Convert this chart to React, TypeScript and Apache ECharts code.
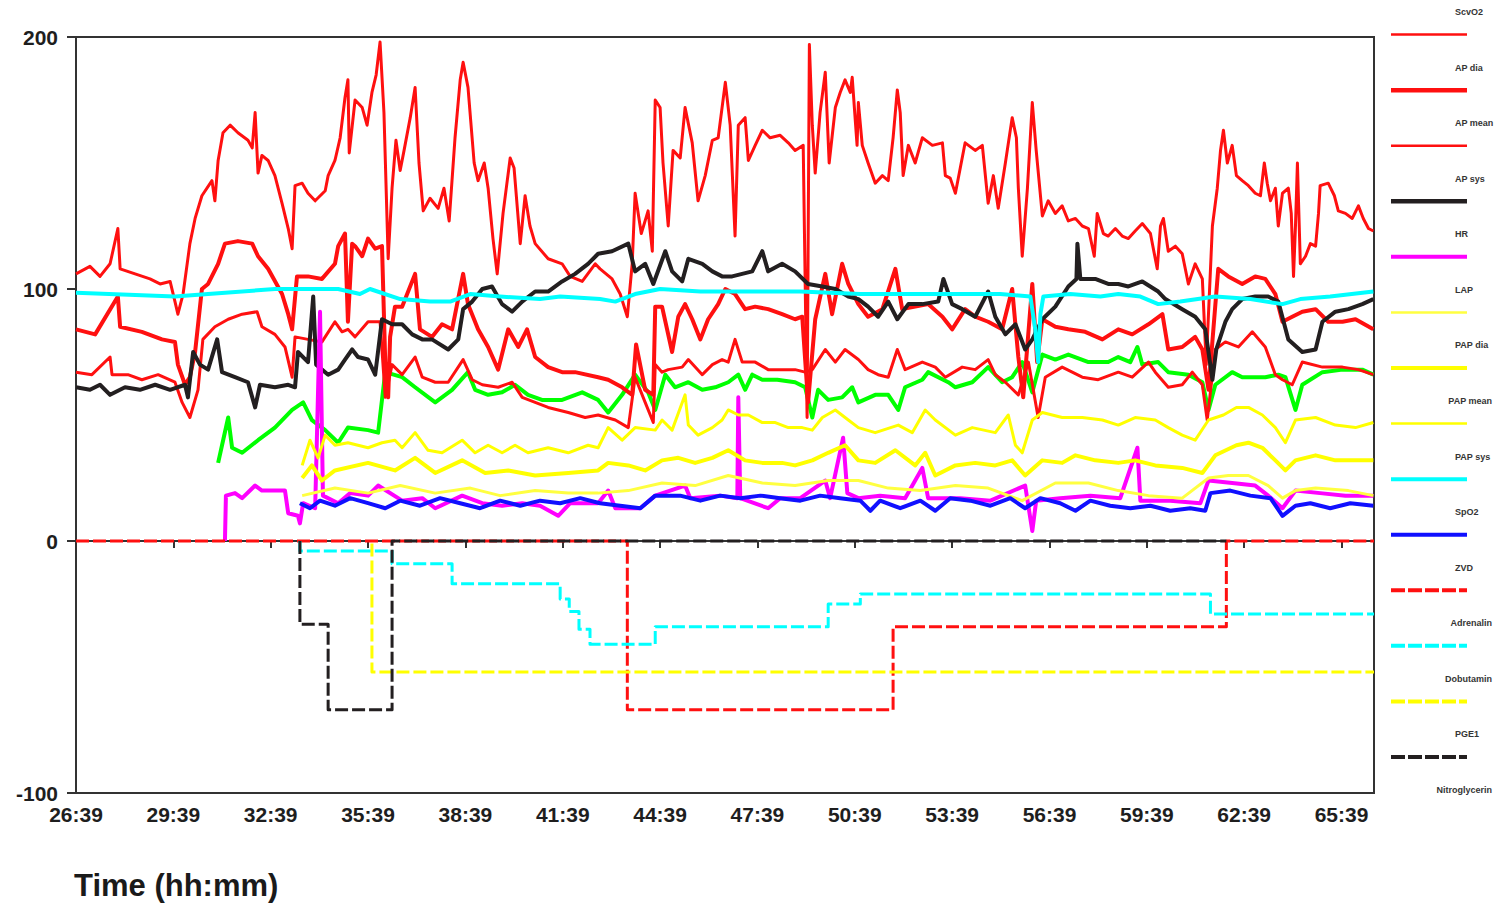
import React, { useEffect, useRef } from "react";
import * as echarts from "echarts";

type Pt = [number, number];

// x = minutes after 26:39, y = value (drug rates are plotted as negative steps)
const scvo2: Pt[] = [
  [4.38, 31], [4.5, 38], [4.69, 49], [4.81, 37], [5.12, 35], [5.61, 40], [6.13, 45], [6.66, 52], [7.0, 55], [7.27, 48],
  [7.68, 44], [8.08, 39], [8.38, 45], [9.0, 44], [9.31, 43], [9.53, 67], [10.05, 65], [10.45, 61], [11.07, 55], [11.59, 60],
  [12.08, 67], [12.3, 60], [12.7, 58], [13.13, 59], [13.53, 62], [13.93, 58], [14.36, 56], [14.98, 56], [15.6, 59], [16.09, 56],
  [16.4, 51], [16.83, 58], [17.23, 66], [17.63, 59], [17.85, 52], [18.16, 66], [18.46, 61], [18.87, 63], [19.3, 60], [19.7, 61],
  [20.1, 63], [20.41, 66], [20.62, 60], [20.84, 66], [21.15, 64], [21.61, 64], [22.16, 63], [22.47, 61], [22.69, 49], [22.87, 60],
  [23.18, 56], [23.61, 57], [23.92, 61], [24.11, 55], [24.63, 58], [25.03, 58], [25.34, 52], [25.55, 61], [26.08, 64], [26.26, 67],
  [26.88, 63], [27.1, 61], [27.62, 63], [28.11, 69], [28.54, 63], [28.85, 65], [29.16, 71], [29.47, 59], [29.78, 74], [30.18, 72],
  [30.58, 74], [31.2, 71], [31.81, 71], [32.12, 73], [32.49, 71], [32.71, 77], [32.86, 70], [33.35, 71], [33.66, 67], [34.28, 66],
  [34.71, 63], [34.9, 52], [35.11, 62], [35.63, 67], [35.94, 65], [36.65, 65], [37.05, 66], [37.27, 65], [37.58, 52], [37.79, 62],
  [38.41, 67], [39.03, 68], [39.64, 68], [39.98, 66],
];

const apDia: Pt[] = [
  [0, 67], [0.49, 66], [1.05, 73], [1.11, 66], [1.6, 66], [2.03, 64], [2.53, 66], [3.05, 63], [3.27, 55], [3.51, 49],
  [3.76, 60], [3.91, 80], [4.28, 85], [4.69, 88], [5.12, 90], [5.58, 91], [5.73, 85], [6.13, 82], [6.44, 77], [6.66, 65],
  [6.75, 81], [7.15, 80], [7.58, 79], [7.98, 87], [8.2, 83], [8.38, 84], [8.6, 81], [9.0, 87], [9.37, 87], [9.53, 57],
  [9.74, 70], [10.05, 66], [10.45, 73], [10.67, 65], [11.07, 63], [11.47, 63], [11.93, 72], [12.21, 64], [12.52, 62], [13.01, 61],
  [13.44, 63], [13.75, 57], [14.15, 55], [14.55, 53], [15.17, 51], [15.69, 49], [16.09, 50], [16.62, 48], [17.02, 45], [17.23, 65],
  [17.54, 55], [17.79, 47], [17.85, 70], [18.06, 67], [18.25, 68], [18.68, 69], [18.87, 72], [19.3, 66], [19.61, 70], [19.91, 72],
  [20.1, 71], [20.31, 80], [20.53, 71], [20.93, 71], [21.33, 68], [21.76, 68], [22.16, 68], [22.47, 67], [22.69, 68], [23.09, 76],
  [23.4, 71], [23.7, 76], [24.11, 72], [24.41, 68], [24.72, 66], [25.03, 65], [25.31, 76], [25.55, 68], [26.08, 71], [26.48, 69],
  [26.79, 65], [27.31, 69], [27.71, 68], [28.11, 72], [28.33, 66], [28.64, 63], [29.04, 58], [29.35, 71], [29.65, 49], [29.87, 65],
  [30.39, 69], [31.01, 65], [31.5, 64], [32.12, 67], [32.55, 65], [33.05, 71], [33.26, 67], [33.66, 61], [34.09, 62], [34.4, 67],
  [34.71, 62], [34.86, 48], [35.11, 76], [35.42, 79], [35.82, 77], [36.25, 83], [36.65, 77], [36.96, 66], [37.18, 64], [37.48, 62],
  [37.79, 71], [38.41, 69], [39.03, 69], [39.52, 68], [39.98, 66],
];

const apMean: Pt[] = [
  [0, 84], [0.59, 82], [1.29, 97], [1.36, 85], [2.03, 83], [2.65, 80], [3.05, 79], [3.14, 70], [3.36, 62], [3.51, 65],
  [3.67, 75], [3.88, 100], [4.07, 102], [4.38, 110], [4.59, 118], [4.99, 119], [5.43, 118], [5.61, 113], [5.92, 108], [6.35, 98],
  [6.54, 90], [6.66, 84], [6.81, 105], [7.15, 105], [7.58, 104], [7.98, 110], [8.08, 117], [8.29, 122], [8.38, 87], [8.51, 118],
  [8.6, 117], [8.82, 113], [9.0, 120], [9.22, 116], [9.43, 117], [9.53, 71], [9.62, 57], [9.68, 81], [9.83, 93], [10.05, 93],
  [10.45, 106], [10.6, 84], [10.97, 81], [11.28, 86], [11.59, 84], [11.93, 106], [12.08, 94], [12.39, 84], [12.7, 77], [13.01, 68],
  [13.32, 84], [13.63, 77], [13.9, 84], [14.15, 73], [14.55, 69], [14.98, 67], [15.38, 67], [16.09, 65], [16.4, 64], [16.83, 61],
  [17.14, 58], [17.26, 78], [17.54, 60], [17.79, 58], [17.85, 93], [18.06, 93], [18.37, 75], [18.56, 89], [18.77, 94], [18.99, 88],
  [19.24, 80], [19.48, 88], [19.79, 94], [20.01, 100], [20.31, 98], [20.62, 92], [20.93, 93], [21.33, 92], [21.76, 90], [22.16, 88],
  [22.38, 89], [22.56, 55], [22.78, 88], [23.09, 106], [23.3, 90], [23.61, 110], [23.8, 102], [24.11, 94], [24.23, 92], [24.41, 89],
  [24.85, 92], [25.25, 108], [25.46, 92], [25.86, 93], [26.26, 94], [26.7, 89], [27.0, 84], [27.4, 92], [27.71, 89], [28.11, 87],
  [28.54, 84], [28.85, 100], [29.04, 73], [29.19, 57], [29.47, 102], [29.62, 71], [29.78, 88], [30.18, 85], [30.58, 84], [31.1, 83],
  [31.63, 80], [32.12, 84], [32.55, 82], [33.05, 86], [33.48, 90], [33.66, 76], [34.09, 77], [34.49, 81], [34.71, 76], [34.9, 60],
  [35.2, 108], [35.51, 105], [35.94, 102], [36.34, 105], [36.65, 104], [36.96, 98], [37.18, 87], [37.48, 89], [37.79, 91], [38.2, 92],
  [38.59, 87], [39.03, 87], [39.43, 88], [39.98, 84],
];

const apSys: Pt[] = [
  [0, 106], [0.43, 109], [0.74, 105], [1.05, 110], [1.29, 124], [1.36, 108], [1.82, 106], [2.28, 104], [2.59, 102], [2.9, 103],
  [3.05, 95], [3.14, 90], [3.3, 98], [3.51, 118], [3.67, 128], [3.88, 137], [4.19, 143], [4.28, 135], [4.38, 151], [4.53, 162],
  [4.75, 165], [4.99, 162], [5.3, 159], [5.43, 156], [5.52, 170], [5.61, 146], [5.73, 153], [5.92, 151], [6.13, 145], [6.35, 134],
  [6.54, 124], [6.66, 116], [6.75, 141], [6.97, 142], [7.15, 138], [7.37, 135], [7.68, 139], [7.77, 145], [7.98, 151], [8.14, 160],
  [8.29, 176], [8.38, 183], [8.42, 154], [8.6, 175], [8.82, 172], [8.97, 165], [9.12, 178], [9.25, 185], [9.37, 198], [9.49, 170],
  [9.62, 112], [9.74, 140], [9.86, 159], [9.99, 147], [10.11, 155], [10.3, 168], [10.45, 180], [10.57, 150], [10.7, 131], [10.91, 136],
  [11.16, 132], [11.34, 140], [11.5, 127], [11.68, 160], [11.84, 183], [11.93, 190], [12.08, 180], [12.27, 150], [12.39, 143], [12.58, 150],
  [12.7, 140], [12.85, 120], [12.98, 106], [13.16, 130], [13.38, 152], [13.5, 148], [13.69, 118], [13.84, 137], [13.99, 125], [14.15, 118],
  [14.55, 112], [14.98, 110], [15.23, 105], [15.6, 103], [16.0, 110], [16.15, 108], [16.52, 104], [16.77, 98], [16.99, 89], [17.14, 110],
  [17.23, 138], [17.42, 122], [17.63, 131], [17.76, 115], [17.85, 175], [18.0, 172], [18.09, 150], [18.25, 125], [18.4, 155], [18.62, 152],
  [18.77, 172], [18.99, 158], [19.17, 135], [19.39, 145], [19.61, 159], [19.79, 160], [20.01, 182], [20.16, 165], [20.31, 121], [20.41, 165],
  [20.62, 168], [20.72, 151], [20.93, 157], [21.15, 163], [21.39, 160], [21.7, 161], [21.95, 158], [22.16, 155], [22.41, 157], [22.53, 49],
  [22.6, 197], [22.69, 165], [22.78, 146], [22.93, 170], [23.09, 186], [23.21, 150], [23.4, 172], [23.55, 178], [23.7, 183], [23.86, 178],
  [23.92, 184], [24.07, 157], [24.11, 174], [24.23, 157], [24.41, 150], [24.63, 142], [24.85, 145], [25.03, 143], [25.18, 160], [25.31, 179],
  [25.4, 170], [25.49, 145], [25.65, 157], [25.86, 150], [26.08, 160], [26.39, 157], [26.7, 158], [26.79, 145], [26.94, 144], [27.1, 138],
  [27.25, 148], [27.4, 158], [27.71, 155], [27.93, 157], [28.11, 134], [28.27, 145], [28.42, 132], [28.64, 150], [28.85, 168], [28.98, 160],
  [29.04, 140], [29.16, 113], [29.32, 140], [29.47, 174], [29.59, 155], [29.78, 129], [29.96, 135], [30.18, 130], [30.39, 133], [30.58, 127],
  [30.8, 128], [31.01, 125], [31.2, 124], [31.38, 113], [31.47, 130], [31.66, 122], [31.81, 121], [32.03, 124], [32.24, 121], [32.43, 120],
  [32.64, 123], [32.86, 126], [33.11, 122], [33.32, 108], [33.42, 125], [33.51, 128], [33.66, 115], [33.88, 117], [34.09, 114], [34.28, 102],
  [34.49, 110], [34.71, 104], [34.83, 70], [35.02, 125], [35.17, 140], [35.27, 155], [35.36, 163], [35.48, 150], [35.63, 157], [35.76, 145],
  [35.94, 143], [36.13, 141], [36.34, 138], [36.5, 137], [36.62, 150], [36.71, 142], [36.81, 135], [36.96, 140], [37.05, 125], [37.18, 138],
  [37.36, 140], [37.45, 130], [37.52, 105], [37.58, 125], [37.64, 150], [37.73, 110], [37.89, 113], [38.04, 118], [38.2, 117], [38.29, 130],
  [38.34, 141], [38.59, 142], [38.78, 137], [38.9, 131], [39.12, 130], [39.33, 128], [39.52, 133], [39.67, 128], [39.83, 124], [39.98, 123],
];

const hr: Pt[] = [
  [0, 61], [0.43, 60], [0.74, 62], [1.05, 58], [1.51, 61], [1.97, 60], [2.44, 62], [2.9, 60], [3.36, 62], [3.45, 57],
  [3.61, 75], [3.82, 70], [4.07, 68], [4.35, 80], [4.5, 67], [4.9, 65], [5.3, 63], [5.52, 53], [5.67, 62], [6.13, 61],
  [6.54, 62], [6.75, 61], [6.84, 75], [7.15, 71], [7.31, 97], [7.4, 70], [7.77, 66], [8.08, 68], [8.29, 72], [8.51, 76],
  [8.69, 73], [9.0, 72], [9.22, 66], [9.43, 88], [9.74, 86], [10.05, 86], [10.36, 82], [10.67, 80], [10.97, 80], [11.47, 76],
  [11.78, 80], [11.93, 92], [12.21, 95], [12.52, 100], [12.82, 101], [13.13, 94], [13.44, 91], [13.75, 95], [14.15, 99], [14.55, 99],
  [14.98, 103], [15.38, 106], [15.78, 110], [16.09, 114], [16.52, 115], [17.02, 118], [17.23, 107], [17.54, 110], [17.79, 102], [18.16, 115],
  [18.37, 107], [18.68, 103], [18.87, 112], [19.3, 110], [19.61, 107], [19.91, 105], [20.22, 105], [20.53, 106], [20.84, 107], [21.15, 115],
  [21.33, 107], [21.76, 110], [22.16, 107], [22.56, 102], [23.0, 101], [23.4, 100], [23.8, 97], [24.11, 96], [24.41, 93], [24.72, 89],
  [25.03, 95], [25.31, 88], [25.65, 94], [26.08, 94], [26.57, 95], [26.73, 104], [27.0, 94], [27.31, 92], [27.71, 89], [28.11, 99],
  [28.33, 89], [28.64, 82], [28.95, 86], [29.25, 76], [29.47, 80], [29.78, 88], [30.18, 93], [30.58, 101], [30.83, 104], [30.86, 118],
  [30.95, 104], [31.41, 104], [31.81, 102], [32.12, 102], [32.43, 101], [32.86, 103], [33.35, 99], [33.57, 96], [34.09, 92], [34.49, 89],
  [34.8, 84], [35.02, 64], [35.14, 76], [35.42, 87], [35.63, 92], [35.94, 96], [36.34, 97], [36.74, 97], [37.05, 95], [37.36, 80],
  [37.79, 75], [38.2, 76], [38.41, 87], [38.81, 91], [39.21, 92], [39.64, 94], [39.98, 96],
];

const lap: Pt[] = [
  [4.59, 0], [4.62, 18], [4.9, 19], [5.12, 17], [5.52, 22], [5.73, 20], [6.13, 20], [6.44, 20], [6.54, 11], [6.84, 10],
  [6.9, 7], [7.0, 15], [7.37, 13], [7.52, 91], [7.61, 18], [8.08, 15], [8.45, 19], [9.0, 18], [9.31, 22], [10.05, 16],
  [10.67, 17], [11.07, 13], [11.9, 18], [12.52, 15], [13.13, 14], [13.75, 15], [14.3, 14], [14.86, 10], [15.23, 15], [16.09, 15],
  [16.4, 20], [16.62, 13], [17.39, 13], [17.85, 18], [18.77, 22], [18.93, 17], [19.85, 18], [20.38, 17], [20.41, 57], [20.47, 17],
  [21.33, 13], [21.7, 17], [22.32, 17], [23.09, 24], [23.24, 17], [23.64, 41], [23.77, 19], [24.11, 17], [24.78, 18], [25.55, 17],
  [26.08, 29], [26.26, 17], [27.25, 17], [28.18, 16], [29.25, 22], [29.47, 4], [29.59, 16], [30.33, 17], [31.26, 18], [32.18, 17],
  [32.71, 37], [32.8, 16], [33.72, 16], [34.65, 15], [34.9, 24], [35.63, 23], [36.34, 22], [36.74, 18], [37.18, 13], [37.58, 20],
  [38.34, 19], [39.12, 18], [39.98, 18],
];

const papDia: Pt[] = [
  [6.97, 18], [7.98, 21], [9.0, 19], [9.99, 22], [11.07, 19], [12.15, 21], [13.07, 18], [14.15, 20], [15.17, 19], [16.09, 19],
  [17.02, 20], [18.06, 23], [19.08, 22], [20.1, 26], [21.15, 23], [22.16, 22], [23.18, 24], [24.11, 24], [25.03, 21], [26.02, 20],
  [27.1, 22], [28.11, 21], [29.16, 16], [30.18, 23], [31.2, 23], [32.12, 20], [33.05, 18], [34.09, 17], [34.9, 25], [35.51, 26],
  [36.13, 26], [36.74, 22], [37.18, 17], [37.58, 20], [38.2, 21], [39.21, 20], [39.98, 18],
];

const papMean: Pt[] = [
  [6.97, 25], [7.27, 30], [7.58, 24], [7.98, 28], [9.0, 31], [9.83, 28], [10.45, 33], [11.07, 27], [11.9, 32], [12.61, 27],
  [13.32, 28], [14.15, 26], [15.17, 27], [16.09, 28], [16.4, 31], [17.02, 30], [17.54, 28], [18.06, 32], [18.56, 33], [19.08, 31],
  [19.61, 33], [20.1, 36], [20.62, 32], [21.15, 31], [21.76, 31], [22.16, 30], [22.69, 32], [23.18, 35], [23.7, 38], [24.11, 32],
  [24.63, 31], [25.25, 36], [25.86, 30], [26.17, 35], [26.48, 26], [27.1, 30], [27.71, 31], [28.33, 30], [28.85, 32], [29.25, 26],
  [29.78, 32], [30.39, 31], [30.8, 34], [31.41, 32], [32.12, 31], [32.64, 32], [33.26, 30], [34.09, 29], [34.71, 27], [35.11, 34],
  [35.76, 38], [36.13, 39], [36.56, 37], [36.96, 32], [37.27, 28], [37.58, 32], [38.2, 34], [38.81, 32], [39.43, 32], [39.98, 32],
];

const papSys: Pt[] = [
  [6.97, 30], [7.21, 40], [7.46, 33], [7.68, 42], [7.98, 38], [8.38, 39], [9.0, 37], [9.43, 39], [9.83, 40], [10.05, 37],
  [10.45, 43], [10.85, 36], [11.28, 35], [11.9, 40], [12.3, 35], [12.7, 38], [13.13, 35], [13.53, 38], [13.93, 35], [14.55, 37],
  [15.17, 35], [15.78, 38], [16.09, 37], [16.4, 45], [16.83, 40], [17.23, 45], [17.85, 44], [18.06, 48], [18.37, 44], [18.77, 58],
  [18.87, 46], [19.17, 42], [19.61, 45], [19.91, 48], [20.1, 52], [20.41, 50], [20.72, 50], [21.15, 47], [21.55, 47], [21.95, 45],
  [22.38, 45], [22.69, 44], [23.0, 49], [23.4, 52], [23.8, 48], [24.11, 45], [24.63, 43], [25.34, 46], [25.77, 43], [26.17, 52],
  [26.48, 48], [27.1, 42], [27.62, 45], [28.33, 43], [28.73, 50], [28.95, 38], [29.16, 35], [29.47, 48], [29.78, 51], [30.39, 49],
  [31.01, 49], [31.63, 48], [32.12, 46], [32.64, 49], [33.26, 48], [33.66, 45], [34.09, 42], [34.49, 40], [34.9, 48], [35.36, 50],
  [35.76, 53], [36.13, 53], [36.56, 50], [36.96, 45], [37.27, 39], [37.58, 48], [38.2, 49], [38.81, 46], [39.43, 45], [39.98, 47],
];

const spo2: Pt[] = [
  [0, 98.5], [3.05, 97], [4.07, 98], [6.13, 100], [8.08, 100], [8.75, 98], [9.06, 100], [9.99, 96], [10.91, 95], [11.53, 95],
  [12.15, 98], [13.07, 97], [14.3, 96], [14.92, 97], [16.15, 96], [16.62, 95], [17.23, 98], [18.0, 100], [19.24, 99], [21.09, 99],
  [22.32, 99], [24.17, 98], [25.4, 98], [27.25, 98], [28.48, 98], [29.41, 97], [29.56, 84], [29.65, 71], [29.72, 90], [29.81, 97],
  [30.64, 98], [31.57, 97], [32.12, 98], [32.8, 97], [33.35, 94], [34.03, 95], [35.11, 97], [36.19, 96], [37.18, 94], [37.73, 96],
  [38.65, 97], [39.98, 99],
];

const zvd: Pt[] = [
  [6.9, 15], [7.21, 13], [7.52, 16], [7.98, 14], [8.45, 17], [9.0, 15], [9.53, 13], [9.99, 16], [10.6, 14], [11.22, 17],
  [11.84, 15], [12.45, 13], [13.07, 16], [13.69, 14], [14.3, 16], [14.92, 15], [15.54, 17], [16.15, 15], [16.77, 14], [17.39, 13],
  [17.85, 18], [18.62, 18], [19.24, 16], [19.85, 18], [20.47, 17], [21.09, 18], [21.7, 17], [22.32, 16], [22.93, 18], [23.55, 17],
  [24.17, 16], [24.48, 12], [24.78, 16], [25.4, 13], [26.02, 16], [26.48, 12], [26.94, 17], [27.56, 16], [28.18, 14], [28.79, 17],
  [29.25, 13], [29.72, 17], [30.33, 15], [30.8, 12], [31.26, 16], [31.87, 14], [32.49, 13], [33.11, 14], [33.72, 12], [34.34, 13],
  [34.8, 12], [34.96, 19], [35.57, 20], [36.19, 18], [36.81, 17], [37.18, 10], [37.58, 14], [38.04, 15], [38.65, 13], [39.27, 15],
  [39.98, 14],
];

const adrenalin: Pt[] = [
  [0, 0], [16.99, 0], [16.99, -67], [25.18, -67], [25.18, -34], [35.45, -34], [35.45, 0], [40, 0],
];

const dobutamin: Pt[] = [
  [6.9, 0], [6.9, -4], [9.74, -4], [9.74, -9], [11.59, -9], [11.59, -17], [14.92, -17], [14.92, -23], [15.2, -23], [15.2, -28],
  [15.5, -28], [15.5, -35], [15.84, -35], [15.84, -41], [17.85, -41], [17.85, -34], [23.18, -34], [23.18, -25], [24.17, -25], [24.17, -21],
  [34.96, -21], [34.96, -29], [40, -29],
];

const pge: Pt[] = [[9.12, -1], [9.12, -52], [40, -52]];

const nitro: Pt[] = [
  [6.9, 0], [6.9, -33], [7.77, -33], [7.77, -67], [9.74, -67], [9.74, 0], [35.45, 0],
];

const xTickStart = 26; // 26:39 at x = 0
const yTicks = { min: -100, max: 200, step: 100 };

const FONT = "'Liberation Sans', Arial, Helvetica, sans-serif";
const RED = "#ff1010";
const DARK = "#231f20";

interface Def {
  name: string;
  data: Pt[];
  color: string;
  width: number;
  legendWidth: number;
  dashed?: boolean;
}

const defs: Def[] = [
  { name: "ScvO2", data: scvo2, color: "#00ff00", width: 4, legendWidth: 4 },
  { name: "AP dia", data: apDia, color: RED, width: 3, legendWidth: 2.5 },
  { name: "AP mean", data: apMean, color: RED, width: 4, legendWidth: 4.5 },
  { name: "AP sys", data: apSys, color: RED, width: 3, legendWidth: 2.5 },
  { name: "HR", data: hr, color: DARK, width: 4, legendWidth: 4.5 },
  { name: "LAP", data: lap, color: "#ff00ff", width: 4, legendWidth: 4 },
  { name: "PAP dia", data: papDia, color: "#ffff40", width: 3, legendWidth: 2.5 },
  { name: "PAP mean", data: papMean, color: "#ffff00", width: 4, legendWidth: 4 },
  { name: "PAP sys", data: papSys, color: "#ffff00", width: 3, legendWidth: 2.5 },
  { name: "SpO2", data: spo2, color: "#00ffff", width: 4, legendWidth: 4 },
  { name: "ZVD", data: zvd, color: "#1010ff", width: 4, legendWidth: 4 },
  { name: "Adrenalin", data: adrenalin, color: RED, width: 3, legendWidth: 4, dashed: true },
  { name: "Dobutamin", data: dobutamin, color: "#00ffff", width: 3, legendWidth: 4, dashed: true },
  { name: "PGE1", data: pge, color: "#ffff00", width: 3, legendWidth: 4, dashed: true },
  { name: "Nitroglycerin", data: nitro, color: DARK, width: 3, legendWidth: 4, dashed: true },
];

const KEY_FONT_SIZE = 9;
const KEY_TEXT_X = 1455;
const PAGE_RIGHT = 1492;

export default function App() {
  const ref = useRef<HTMLDivElement>(null);

  useEffect(() => {
    if (!ref.current) return;
    const chart = echarts.init(ref.current, null, { renderer: "svg" });

    // Stacked key on the right: a swatch line sits above its label
    const keyItems: any[] = [];
    defs.forEach((d, i) => {
      const ty = 12 + i * 55.57;
      const ly = ty - 33;
      if (ly > 0) {
        keyItems.push({
          type: "line",
          silent: true,
          shape: { x1: 1391, y1: ly, x2: 1467, y2: ly },
          style: {
            stroke: d.color,
            lineWidth: d.legendWidth,
            lineDash: d.dashed ? [14, 3] : null,
          },
        });
      }
      // long labels are pulled in so they stay on the page
      const estWidth = d.name.length * KEY_FONT_SIZE * 0.58;
      const fits = KEY_TEXT_X + estWidth <= PAGE_RIGHT;
      keyItems.push({
        type: "text",
        silent: true,
        x: fits ? KEY_TEXT_X : PAGE_RIGHT,
        y: ty,
        style: {
          text: d.name,
          fill: "#353535",
          fontSize: KEY_FONT_SIZE,
          fontWeight: "bold",
          fontFamily: FONT,
          align: fits ? "left" : "right",
          verticalAlign: "middle",
        },
      });
    });
    keyItems.push({
      type: "text",
      silent: true,
      x: 74,
      y: 885,
      style: {
        text: "Time (hh:mm)",
        fill: "#1a1a1a",
        fontSize: 31,
        fontWeight: "bold",
        fontFamily: FONT,
        verticalAlign: "middle",
      },
    });

    chart.setOption({
      animation: false,
      backgroundColor: "#ffffff",
      grid: {
        left: 76,
        right: 121,
        top: 37,
        bottom: 111,
        show: true,
        borderColor: "#333333",
        borderWidth: 2,
        backgroundColor: "transparent",
      },
      xAxis: {
        type: "value",
        min: 0,
        max: 40,
        interval: 3,
        axisLine: { lineStyle: { color: "#333333", width: 2 } },
        axisTick: { length: 7, lineStyle: { color: "#333333", width: 2 } },
        axisLabel: {
          formatter: (v: number) => `${xTickStart + v}:39`,
          color: "#1e1e1e",
          fontSize: 21,
          fontWeight: "bold",
          fontFamily: FONT,
          margin: 11,
          showMaxLabel: false,
        },
        splitLine: { show: false },
      },
      yAxis: {
        type: "value",
        min: yTicks.min,
        max: yTicks.max,
        interval: yTicks.step,
        axisLine: { show: true, lineStyle: { color: "#333333", width: 2 } },
        axisTick: { show: true, length: 9, lineStyle: { color: "#333333", width: 2 } },
        axisLabel: {
          color: "#1e1e1e",
          fontSize: 21,
          fontWeight: "bold",
          fontFamily: FONT,
          margin: 18,
        },
        splitLine: { show: false },
      },
      graphic: keyItems,
      series: defs.map((d) => ({
        name: d.name,
        type: "line",
        data: d.data,
        showSymbol: false,
        symbol: "none",
        silent: true,
        clip: true,
        lineStyle: {
          color: d.color,
          width: d.width,
          type: d.dashed ? [13, 4] : "solid",
          join: "round",
        },
        itemStyle: { color: d.color },
      })),
    });

    return () => chart.dispose();
  }, []);

  return (
    <div
      ref={ref}
      style={{ position: "absolute", left: 0, top: 0, width: 1495, height: 904 }}
    />
  );
}
